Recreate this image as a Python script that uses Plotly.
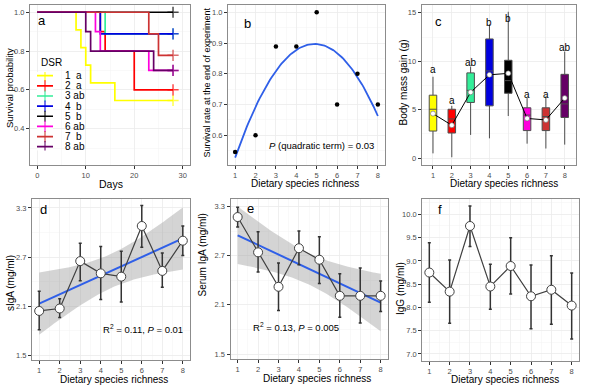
import numpy as np
import plotly.graph_objects as go

W, H = 600, 388
FONT = "Liberation Sans, Arial, sans-serif"

# ---------------- data ----------------
dsr = [1, 2, 3, 4, 5, 6, 7, 8]
dsr_labels = ["1  a", "2  a", "3 ab", "4  b", "5  b", "6 ab", "7  b", "8 ab"]
dsr_colors = ["#FFFF00", "#FF0000", "#33EE99", "#0000E0", "#000000", "#FF00DD", "#CD3333", "#660066"]

# panel a: Kaplan-Meier steps (days, survival probability)
km_days = [
    [0, 8, 9, 10, 11, 16, 28],
    [0, 13, 14, 20, 28],
    [0, 14, 28],
    [0, 13, 28],
    [0, 28],
    [0, 12, 13, 23, 28],
    [0, 23, 25, 28],
    [0, 10, 11, 24, 28],
]
km_surv = [
    [1.0, 0.909, 0.818, 0.727, 0.636, 0.545, 0.545],
    [1.0, 0.9, 0.8, 0.6, 0.6],
    [1.0, 0.889, 0.889],
    [1.0, 0.889, 0.889],
    [1.0, 1.0],
    [1.0, 0.9, 0.8, 0.7, 0.7],
    [1.0, 0.889, 0.778, 0.778],
    [1.0, 0.9, 0.8, 0.7, 0.7],
]

# panel b
final_survival = [0.545, 0.6, 0.889, 0.889, 1.0, 0.7, 0.8, 0.7]

# panel c: body mass gain boxplots
bm_low = [0.5, 0.1, 2.4, 2.05, 4.35, 1.5, 1.0, 1.4]
bm_q1 = [2.8, 2.6, 5.75, 5.4, 6.7, 2.85, 2.85, 4.2]
bm_median = [5.05, 4.05, 7.0, 9.0, 8.0, 4.45, 4.3, 5.6]
bm_q3 = [6.5, 5.05, 8.8, 12.3, 10.1, 5.2, 5.2, 8.65]
bm_high = [8.4, 5.4, 9.45, 13.8, 15.1, 6.2, 6.35, 11.0]
bm_mean = [4.6, 3.4, 6.8, 8.6, 8.75, 4.1, 3.95, 6.2]
bm_letters = ["a", "a", "ab", "b", "b", "a", "a", "ab"]
bm_letter_y = [9.1, 6.0, 9.9, 14.0, 14.4, 6.6, 6.6, 11.4]

# panel d: sIgA
siga_mean = [2.04, 2.07, 2.65, 2.50, 2.46, 3.08, 2.53, 2.90]
siga_upper = [2.28, 2.19, 2.87, 2.83, 2.77, 3.33, 2.75, 3.08]
siga_lower = [1.81, 1.96, 2.41, 2.18, 2.15, 2.82, 2.33, 2.72]
siga_ci_end = 0.38

# panel e: serum IgA
serum_mean = [3.17, 2.74, 2.32, 2.79, 2.65, 2.21, 2.21, 2.21]
serum_upper = [3.29, 2.99, 2.61, 3.00, 2.93, 2.48, 2.55, 2.39]
serum_lower = [3.05, 2.50, 2.03, 2.59, 2.36, 1.95, 1.88, 2.02]
serum_ci_end = 0.35

# panel f: IgG
igg_mean = [8.75, 8.34, 9.75, 8.45, 8.89, 8.24, 8.38, 8.04]
igg_upper = [9.39, 9.02, 10.18, 8.93, 9.50, 8.91, 9.11, 8.74]
igg_lower = [8.11, 7.66, 9.31, 7.96, 8.29, 7.54, 7.64, 7.32]

# ---------------- layout helpers ----------------
def px(x):
    return x / W

def py(y):
    return 1 - y / H

panels = {
    1: (30, 190, 5, 165),
    2: (228, 385, 5, 165),
    3: (421.7, 576, 5, 165),
    4: (32, 190, 199, 360),
    5: (230.5, 387.8, 199, 359),
    6: (422.2, 578.8, 199, 360.5),
}

GRID = "#EBEBEB"
MINOR = "#F4F4F4"
FRAME = "#8C8C8C"

def axis(k, which, rng, tick0, dtick, minor_dtick=None):
    x0, x1, y0, y1 = panels[k]
    d = dict(
        range=rng, showline=True, mirror=True, linecolor=FRAME, linewidth=1,
        ticks="outside", ticklen=3, tickwidth=1, tickcolor="#333333",
        tickfont=dict(family=FONT, size=7.5, color="#4D4D4D"),
        showgrid=True, gridcolor=GRID, gridwidth=0.8, zeroline=False,
        tick0=tick0, dtick=dtick, fixedrange=True,
    )
    if minor_dtick:
        d["minor"] = dict(dtick=minor_dtick, tick0=tick0, showgrid=True, gridcolor=MINOR, gridwidth=0.5, ticks="")
    if which == "x":
        d["domain"] = [px(x0), px(x1)]
        d["anchor"] = "y" if k == 1 else f"y{k}"
    else:
        d["domain"] = [py(y1), py(y0)]
        d["anchor"] = "x" if k == 1 else f"x{k}"
    return d

def ax(k):
    return ("x", "y") if k == 1 else (f"x{k}", f"y{k}")

fig = go.Figure()

# ---------------- panel a ----------------
for i in range(len(dsr)):
    xs, ys = km_days[i], km_surv[i]
    sizes = [0] * (len(xs) - 1) + [8]
    fig.add_trace(go.Scatter(
        x=xs, y=ys, mode="lines+markers", line=dict(color=dsr_colors[i], width=1.7, shape="hv"),
        marker=dict(symbol="cross-thin", size=sizes, line=dict(color=dsr_colors[i], width=1.5)),
        xaxis="x", yaxis="y", showlegend=False, hoverinfo="skip"))

# custom legend symbols on hidden axis
LEG_X0, LEG_X1, LEG_TOP, LEG_BOT = 37, 53, 72, 150.4
for i in range(len(dsr)):
    fig.add_trace(go.Scatter(
        x=[0, 0.5, 1], y=[i, i, i], mode="lines+markers",
        line=dict(color=dsr_colors[i], width=1.7),
        marker=dict(symbol="line-ns", size=[0, 8, 0], line=dict(color=dsr_colors[i], width=1.5)),
        xaxis="x7", yaxis="y7", showlegend=False, hoverinfo="skip"))

# ---------------- panel b ----------------
coef_b = np.polyfit(dsr, final_survival, 2)
xf = np.linspace(min(dsr), max(dsr), 100)
fig.add_trace(go.Scatter(x=xf, y=np.polyval(coef_b, xf), mode="lines",
                         line=dict(color="#2F5FE8", width=1.8), xaxis="x2", yaxis="y2",
                         showlegend=False, hoverinfo="skip"))
fig.add_trace(go.Scatter(x=dsr, y=final_survival, mode="markers",
                         marker=dict(color="black", size=4.5), xaxis="x2", yaxis="y2",
                         showlegend=False))

# ---------------- panel c ----------------
for i in range(len(dsr)):
    fig.add_trace(go.Box(
        x=[dsr[i]], q1=[bm_q1[i]], median=[bm_median[i]], q3=[bm_q3[i]],
        lowerfence=[bm_low[i]], upperfence=[bm_high[i]],
        fillcolor=dsr_colors[i], line=dict(color="#4D4D4D", width=1), width=0.4,
        whiskerwidth=0, xaxis="x3", yaxis="y3", showlegend=False, hoverinfo="skip"))
fig.add_trace(go.Scatter(x=dsr, y=bm_mean, mode="lines+markers",
                         line=dict(color="black", width=1),
                         marker=dict(color="white", size=5, line=dict(color="#666666", width=0.6)),
                         xaxis="x3", yaxis="y3", showlegend=False))

# ---------------- panels d, e, f ----------------
def mean_err_panel(k, means, upper, lower, ci_end=None):
    xa, ya = ax(k)
    if ci_end is not None:
        slope, inter = np.polyfit(dsr, means, 1)
        xbar = np.mean(dsr)
        var = np.var(dsr)
        dmax = max(abs(v - xbar) for v in dsr)
        xs = np.linspace(min(dsr), max(dsr), 80)
        hw = ci_end * np.sqrt((var + (xs - xbar) ** 2) / (var + dmax ** 2))
        yfit = inter + slope * xs
        fig.add_trace(go.Scatter(
            x=np.concatenate([xs, xs[::-1]]), y=np.concatenate([yfit + hw, (yfit - hw)[::-1]]),
            fill="toself", fillcolor="rgba(153,153,153,0.42)", line=dict(width=0),
            mode="lines", xaxis=xa, yaxis=ya, showlegend=False, hoverinfo="skip"))
        fig.add_trace(go.Scatter(x=xs, y=yfit, mode="lines", line=dict(color="#2F5FE8", width=2),
                                 xaxis=xa, yaxis=ya, showlegend=False, hoverinfo="skip"))
    plus = [u - m for u, m in zip(upper, means)]
    minus = [m - l for m, l in zip(means, lower)]
    fig.add_trace(go.Scatter(
        x=dsr, y=means, mode="lines+markers",
        line=dict(color="#404040", width=1.2),
        marker=dict(color="white", size=9, line=dict(color="#404040", width=1)),
        error_y=dict(type="data", array=plus, arrayminus=minus, color="#333333", thickness=1.5, width=1.5),
        xaxis=xa, yaxis=ya, showlegend=False))

mean_err_panel(4, siga_mean, siga_upper, siga_lower, siga_ci_end)
mean_err_panel(5, serum_mean, serum_upper, serum_lower, serum_ci_end)
mean_err_panel(6, igg_mean, igg_upper, igg_lower)

# ---------------- axes ----------------
xr = [0.65, 8.35]
n_rows = len(dsr)
layout_axes = dict(
    xaxis=axis(1, "x", [-1.5, 31.5], 0, 10, 5),
    yaxis=axis(1, "y", [0.2125, 1.0375], 0.4, 0.2, 0.1),
    xaxis2=axis(2, "x", xr, 1, 1, 0.5),
    yaxis2=axis(2, "y", [0.503, 1.024], 0.6, 0.1, 0.05),
    xaxis3=axis(3, "x", [0.4, 8.6], 1, 1),
    yaxis3=axis(3, "y", [-0.7, 15.8], 0, 5, 2.5),
    xaxis4=axis(4, "x", xr, 1, 1, 0.5),
    yaxis4=axis(4, "y", [1.44, 3.41], 1.5, 0.6, 0.3),
    xaxis5=axis(5, "x", xr, 1, 1, 0.5),
    yaxis5=axis(5, "y", [1.44, 3.39], 1.5, 0.6, 0.3),
    xaxis6=axis(6, "x", xr, 1, 1, 0.5),
    yaxis6=axis(6, "y", [6.86, 10.33], 7.0, 0.5, 0.25),
    xaxis7=dict(domain=[px(LEG_X0), px(LEG_X1)], range=[0, 1], visible=False, anchor="y7", fixedrange=True),
    yaxis7=dict(domain=[py(LEG_BOT), py(LEG_TOP)], range=[7.365, -0.365], visible=False, anchor="x7", fixedrange=True),
)
for key in ["yaxis", "yaxis2", "yaxis4", "yaxis5", "yaxis6"]:
    layout_axes[key]["tickformat"] = ".1f"

# ---------------- annotations ----------------
ann = []

def text(x, y, s, size=10, angle=0, color="black", xanchor="center", yanchor="middle"):
    ann.append(dict(x=px(x), y=py(y), xref="paper", yref="paper", text=s, showarrow=False,
                    textangle=angle, xanchor=xanchor, yanchor=yanchor,
                    font=dict(family=FONT, size=size, color=color)))

# x titles
text(111, 183.5, "Days", 10.5)
text(305, 183.5, "Dietary species richness", 10)
text(504, 183.5, "Dietary species richness", 10)
text(114, 379.5, "Dietary species richness", 10)
text(317, 378.5, "Dietary species richness", 10)
text(505, 379, "Dietary species richness", 10)
# y titles
text(10, 88, "Survival probability", 9.5, -90)
text(206.5, 83, "Survival rate at the end of experiment", 9, -90)
text(402.5, 82, "Body mass gain (g)", 10, -90)
text(10, 283, "sIgA (mg/ml)", 10, -90)
text(201.5, 255, "Serum IgA (mg/ml)", 10, -90)
text(400, 289, "IgG (mg/ml)", 10, -90)
# panel letters
text(42, 20.5, "a", 13)
text(247, 23, "b", 13)
text(438.5, 21.5, "c", 13)
text(43.5, 209.5, "d", 13)
text(250, 208, "e", 13)
text(440, 209.5, "f", 13)
# stats
text(321, 145.5, "<i>P</i> (quadratic term) = 0.03", 9.5)
text(143, 329, "R<sup>2</sup> = 0.11, <i>P</i> = 0.01", 9.5)
text(296, 327, "R<sup>2</sup> = 0.13, <i>P</i> = 0.005", 9.5)
# legend
text(39, 63, "DSR", 10, xanchor="left")
row_step = (146.7 - 75.7) / (n_rows - 1)
for i, lab in enumerate(dsr_labels):
    text(63, 75.7 + i * row_step, lab, 10, xanchor="left")
# box letters
for i in range(len(dsr)):
    ann.append(dict(x=dsr[i], y=bm_letter_y[i], xref="x3", yref="y3", text=bm_letters[i],
                    showarrow=False, xanchor="center", yanchor="middle",
                    font=dict(family=FONT, size=10, color="black")))

fig.update_layout(
    width=W, height=H, margin=dict(l=0, r=0, t=0, b=0),
    paper_bgcolor="white", plot_bgcolor="white",
    font=dict(family=FONT), showlegend=False, hovermode=False,
    annotations=ann, **layout_axes,
)

fig.write_html("out.html", config={"displayModeBar": False, "staticPlot": True},
               post_script="document.body.style.margin='0';document.body.style.overflow='hidden';")
